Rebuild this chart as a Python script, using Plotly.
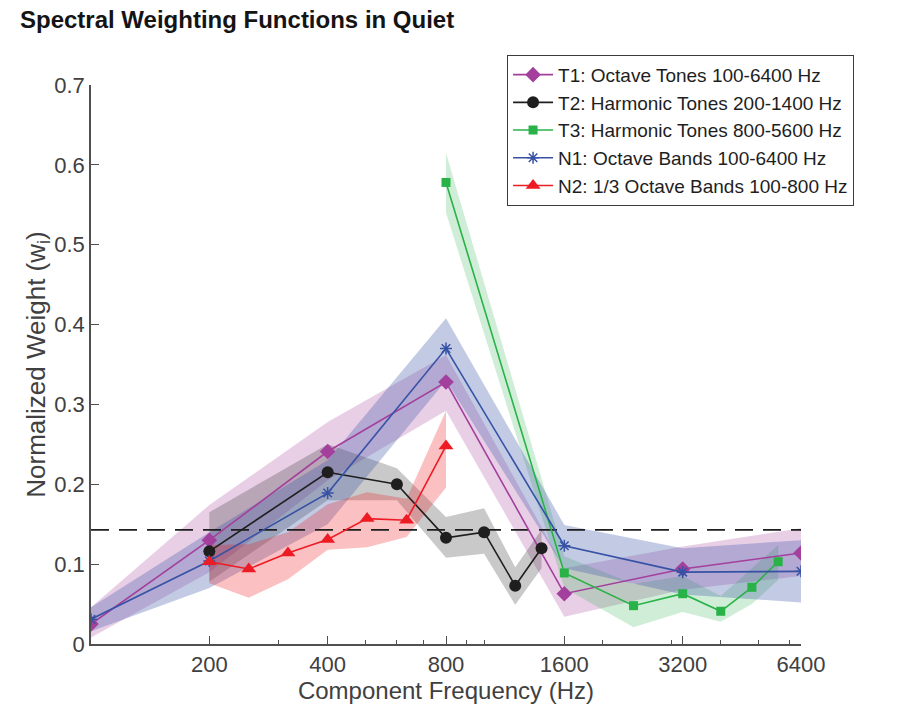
import plotly.graph_objects as go

# ---------------- data ----------------
t1_freq = [100, 200, 400, 800, 1600, 3200, 6400]
t1_w = [0.025, 0.130, 0.241, 0.328, 0.063, 0.094, 0.114]
t1_hi = [0.046, 0.174, 0.278, 0.362, 0.095, 0.122, 0.145]
t1_lo = [0.008, 0.090, 0.205, 0.292, 0.034, 0.068, 0.085]

t2_freq = [200, 400, 600, 800, 1000, 1200, 1400]
t2_w = [0.116, 0.215, 0.200, 0.133, 0.140, 0.073, 0.120]
t2_hi = [0.165, 0.250, 0.220, 0.159, 0.170, 0.096, 0.143]
t2_lo = [0.078, 0.180, 0.180, 0.108, 0.113, 0.049, 0.095]

t3_freq = [800, 1600, 2400, 3200, 4000, 4800, 5600]
t3_w = [0.578, 0.089, 0.048, 0.063, 0.041, 0.071, 0.103]
t3_hi = [0.615, 0.110, 0.075, 0.085, 0.060, 0.095, 0.124]
t3_lo = [0.540, 0.070, 0.021, 0.040, 0.028, 0.050, 0.080]

n1_freq = [100, 200, 400, 800, 1600, 3200, 6400]
n1_w = [0.031, 0.104, 0.189, 0.370, 0.123, 0.090, 0.091]
n1_hi = [0.046, 0.140, 0.230, 0.408, 0.149, 0.120, 0.130]
n1_lo = [0.016, 0.070, 0.150, 0.330, 0.095, 0.062, 0.052]

n2_freq = [200, 252, 317, 400, 504, 635, 800]
n2_w = [0.103, 0.094, 0.114, 0.131, 0.157, 0.155, 0.248]
n2_hi = [0.124, 0.125, 0.140, 0.175, 0.190, 0.182, 0.292]
n2_lo = [0.076, 0.058, 0.081, 0.118, 0.121, 0.134, 0.196]

series_names = [
    "T1: Octave Tones 100-6400 Hz",
    "T2: Harmonic Tones 200-1400 Hz",
    "T3: Harmonic Tones 800-5600 Hz",
    "N1: Octave Bands 100-6400 Hz",
    "N2: 1/3 Octave Bands 100-800 Hz",
]

uniform_weight = 1 / 7
major_ticks = [200, 400, 800, 1600, 3200, 6400]
minor_ticks = [300, 500, 600, 700, 900, 1000, 2000, 3000, 4000, 5000, 6000]
y_ticks = [0, 0.1, 0.2, 0.3, 0.4, 0.5, 0.6, 0.7]
y_ticktext = ["0", "0.1", "0.2", "0.3", "0.4", "0.5", "0.6", "0.7"]

# ---------------- style ----------------
series = [
    (t1_freq, t1_w, t1_hi, t1_lo, "rgb(163,64,157)", "rgba(163,64,157,0.25)", "diamond", 12),
    (t2_freq, t2_w, t2_hi, t2_lo, "rgb(30,30,30)", "rgba(40,40,40,0.25)", "circle", 12),
    (t3_freq, t3_w, t3_hi, t3_lo, "rgb(40,178,72)", "rgba(40,178,72,0.22)", "square", 9),
    (n1_freq, n1_w, n1_hi, n1_lo, "rgb(55,82,165)", "rgba(55,82,165,0.30)", "asterisk-open", 10),
    (n2_freq, n2_w, n2_hi, n2_lo, "rgb(237,28,36)", "rgba(237,28,36,0.28)", "triangle-up", 13),
]

fig = go.Figure()

# bands
for f, w, hi, lo, col, fcol, sym, sz in series:
    fig.add_trace(go.Scatter(
        x=list(f) + list(f)[::-1], y=list(hi) + list(lo)[::-1],
        fill="toself", fillcolor=fcol, line=dict(width=0), mode="lines",
        hoverinfo="skip", showlegend=False))

# dashed reference line
fig.add_trace(go.Scatter(
    x=[100, 6400], y=[uniform_weight, uniform_weight], mode="lines",
    line=dict(color="rgb(30,30,30)", width=1.8, dash="18px,10px"),
    showlegend=False, hoverinfo="skip"))

# lines
for (f, w, hi, lo, col, fcol, sym, sz), name in zip(series, series_names):
    marker = dict(symbol=sym, size=sz, color=col)
    if sym == "asterisk-open":
        marker["line"] = dict(color=col, width=1.5)
    fig.add_trace(go.Scatter(
        x=f, y=w, mode="lines+markers", name=name,
        line=dict(color=col, width=1.6), marker=marker))

axis_col = "rgb(80,80,80)"
text_col = "rgb(64,64,64)"
fig.update_layout(
    width=908, height=714,
    margin=dict(l=91, r=107, t=85, b=70),
    paper_bgcolor="white", plot_bgcolor="white",
    font=dict(family="Liberation Sans, Arial, sans-serif", color=text_col),
    title=dict(text="<b>Spectral Weighting Functions in Quiet</b>",
               x=0.022, xanchor="left", y=0.972, yanchor="middle",
               font=dict(size=24, color="rgb(20,20,20)")),
    legend=dict(x=0.586, y=1.054, xanchor="left", yanchor="top",
                bgcolor="white", bordercolor="rgb(60,60,60)", borderwidth=1,
                font=dict(size=19, color="rgb(30,30,30)"),
                tracegroupgap=0, itemwidth=40),
    showlegend=True,
)
fig.update_xaxes(
    type="log", range=[2, 3.80618],
    tickmode="array", tickvals=major_ticks, ticktext=[str(v) for v in major_ticks],
    ticks="inside", ticklen=8, tickcolor=axis_col, tickwidth=1.3,
    minor=dict(tickmode="array", tickvals=minor_ticks, ticks="inside", ticklen=4,
               tickcolor=axis_col, tickwidth=1.3, showgrid=False),
    showline=True, linecolor=axis_col, linewidth=1.5, mirror=False,
    showgrid=False, zeroline=False,
    tickfont=dict(size=22, color=text_col),
    title=dict(text="Component Frequency (Hz)", font=dict(size=24, color=text_col), standoff=4),
)
fig.update_yaxes(
    range=[0, 0.7], tickmode="array", tickvals=y_ticks, ticktext=y_ticktext,
    ticks="inside", ticklen=8, tickcolor=axis_col, tickwidth=1.3,
    showline=True, linecolor=axis_col, linewidth=1.5, mirror=False,
    showgrid=False, zeroline=False,
    tickfont=dict(size=22, color=text_col),
    title=dict(text="Normalized Weight (w<sub>i</sub>)", font=dict(size=26, color=text_col), standoff=0),
)

fig.write_html("out.html")
